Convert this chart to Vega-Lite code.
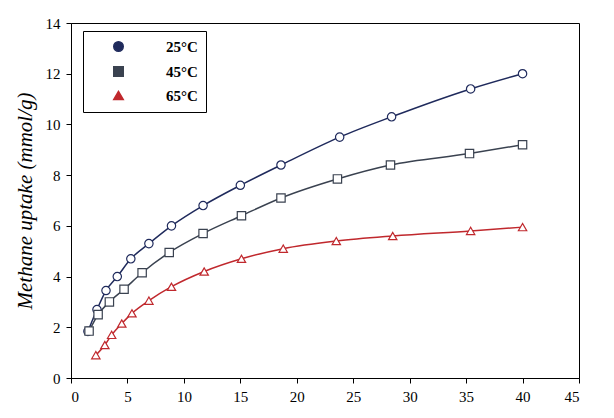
{
  "$schema": "https://vega.github.io/schema/vega-lite/v6.json",
  "width": 614,
  "height": 418,
  "autosize": {"type": "fit", "contains": "padding"},
  "padding": {"left": 14, "top": 16, "right": 34, "bottom": 14},
  "config": {
    "font": "Liberation Serif",
    "view": {"stroke": "black", "strokeWidth": 1},
    "axis": {"grid": false, "domainColor": "black", "tickColor": "black", "labelColor": "black", "labelFontSize": 15, "labelFont": "Liberation Serif", "labelPadding": 6}
  },
  "data": {"values": [
    {"T":"25°C","x":1.5,"y":1.84},{"T":"25°C","x":2.3,"y":2.7},{"T":"25°C","x":3.1,"y":3.45},{"T":"25°C","x":4.1,"y":4.0},{"T":"25°C","x":5.3,"y":4.7},{"T":"25°C","x":6.9,"y":5.3},{"T":"25°C","x":8.9,"y":6.0},{"T":"25°C","x":11.7,"y":6.8},{"T":"25°C","x":15.0,"y":7.6},{"T":"25°C","x":18.6,"y":8.4},{"T":"25°C","x":23.8,"y":9.5},{"T":"25°C","x":28.4,"y":10.3},{"T":"25°C","x":35.4,"y":11.4},{"T":"25°C","x":40,"y":12.0},
    {"T":"45°C","x":1.6,"y":1.85},{"T":"45°C","x":2.4,"y":2.5},{"T":"45°C","x":3.4,"y":3.0},{"T":"45°C","x":4.7,"y":3.5},{"T":"45°C","x":6.3,"y":4.15},{"T":"45°C","x":8.7,"y":4.95},{"T":"45°C","x":11.7,"y":5.7},{"T":"45°C","x":15.1,"y":6.4},{"T":"45°C","x":18.6,"y":7.1},{"T":"45°C","x":23.6,"y":7.85},{"T":"45°C","x":28.3,"y":8.4},{"T":"45°C","x":35.3,"y":8.85},{"T":"45°C","x":40,"y":9.2},
    {"T":"65°C","x":2.2,"y":0.9},{"T":"65°C","x":3.0,"y":1.3},{"T":"65°C","x":3.6,"y":1.7},{"T":"65°C","x":4.5,"y":2.15},{"T":"65°C","x":5.4,"y":2.55},{"T":"65°C","x":6.9,"y":3.05},{"T":"65°C","x":8.9,"y":3.6},{"T":"65°C","x":11.8,"y":4.2},{"T":"65°C","x":15.1,"y":4.7},{"T":"65°C","x":18.8,"y":5.1},{"T":"65°C","x":23.5,"y":5.4},{"T":"65°C","x":28.5,"y":5.6},{"T":"65°C","x":35.4,"y":5.8},{"T":"65°C","x":40,"y":5.95}
  ]},
  "encoding": {
    "x": {"field": "x", "type": "quantitative", "scale": {"domain": [0, 45]}, "axis": {"title": null, "values": [0,5,10,15,20,25,30,35,40,45]}},
    "y": {"field": "y", "type": "quantitative", "scale": {"domain": [0, 14]}, "axis": {"title": "Methane uptake (mmol/g)", "titleFontStyle": "italic", "titleFontWeight": "normal", "titleFontSize": 21, "titleFont": "Liberation Serif", "titlePadding": 10, "values": [0,2,4,6,8,10,12,14]}},
    "color": {"field": "T", "type": "nominal", "scale": {"domain": ["25°C","45°C","65°C"], "range": ["#1f2a5c","#3a4250","#c0282d"]},
      "legend": {"title": null, "orient": "none", "legendX": 12, "legendY": 8, "strokeColor": "black", "padding": 8, "labelFontSize": 15, "labelFontWeight": "bold", "symbolStrokeWidth": 1.5, "symbolSize": 90, "symbolFillColor": "white", "rowPadding": 8, "labelOffset": 40, "symbolOffset": 20, "labelLimit": 200}},
    "shape": {"field": "T", "type": "nominal", "scale": {"domain": ["25°C","45°C","65°C"], "range": ["circle","square","triangle-up"]}, "legend": null}
  },
  "layer": [
    {"mark": {"type": "line", "interpolate": "monotone", "strokeWidth": 1.5}},
    {"mark": {"type": "point", "filled": false, "size": 70, "strokeWidth": 1.2, "fill": "white", "fillOpacity": 1}}
  ]
}
